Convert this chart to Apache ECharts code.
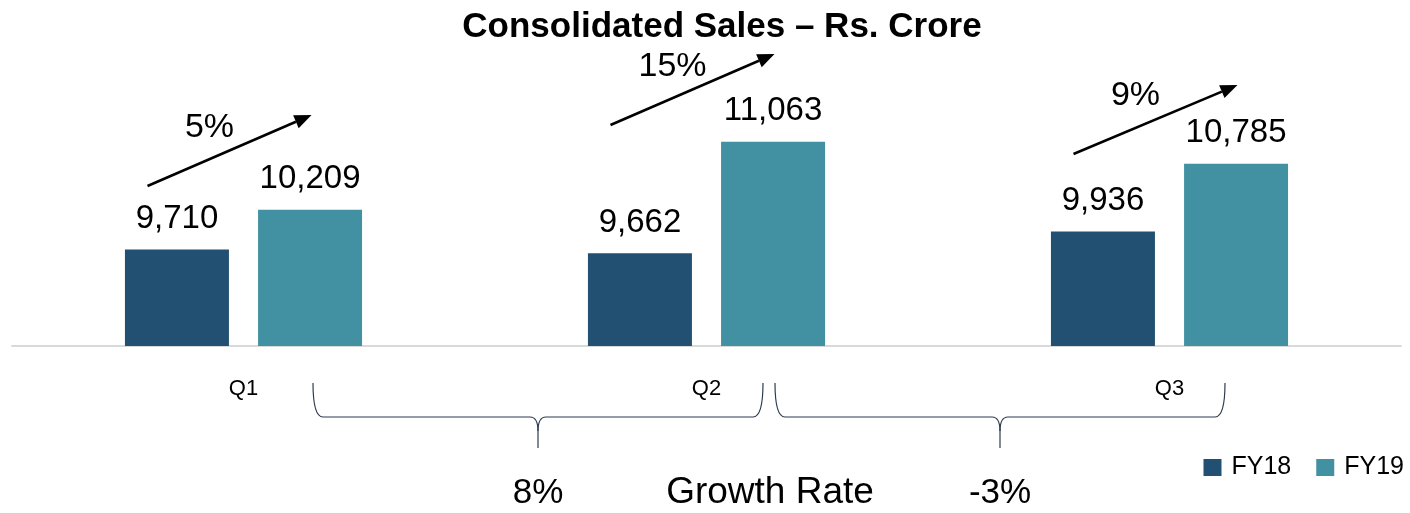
<!DOCTYPE html>
<html>
<head>
<meta charset="utf-8">
<script src="https://cdn.jsdelivr.net/npm/echarts@6/dist/echarts.min.js"></script>
<style>
    html, body { margin: 0; padding: 0; background: #fff; }
    #chart { width: 1410px; height: 513px; }
</style>
</head>
<body>
<div id="chart"></div>
<script>
    // data
    const quarters = ['Q1', 'Q2', 'Q3'];
    const fy18 = [9710, 9662, 9936];
    const fy19 = [10209, 11063, 10785];
    const qoqGrowth = ['5%', '15%', '9%'];
    const growthRates = ['8%', '-3%'];

    const FONT = '"Liberation Sans", Arial, sans-serif';
    const C18 = '#225073';
    const C19 = '#4291A2';

    let myChart = echarts.init(document.getElementById('chart'));

    let option = {
        backgroundColor: '#fff',
        animation: false,
        title: {
            text: 'Consolidated Sales – Rs. Crore',
            left: 717,
            textAlign: 'center',
            top: 5,
            textStyle: { fontFamily: FONT, fontSize: 35, fontWeight: 'bold', color: '#000' }
        },
        legend: {
            data: ['FY18', 'FY19'],
            right: 1,
            top: 450,
            icon: 'rect',
            itemWidth: 18,
            itemHeight: 17,
            itemGap: 25,
            textStyle: { fontFamily: FONT, fontSize: 25, color: '#000', padding: [0, 0, 0, 5] }
        },
        grid: { left: 12, right: 9, top: 67, bottom: 167 },
        xAxis: {
            type: 'category',
            data: quarters,
            axisLine: { lineStyle: { color: '#D9D9D9', width: 2 } },
            axisTick: { show: false },
            axisLabel: { margin: 32, fontFamily: FONT, fontSize: 22, color: '#000' }
        },
        yAxis: {
            type: 'value',
            min: 8500,
            max: 12000,
            show: false,
            splitLine: { show: false }
        },
        series: [{
            name: 'FY18',
            type: 'bar',
            data: fy18,
            barWidth: 104,
            barGap: '28%',
            itemStyle: { color: C18 },
            label: {
                show: true, position: 'top', distance: 14,
                fontFamily: FONT, fontSize: 33, color: '#000',
                formatter: p => p.value.toLocaleString('en-US')
            }
        }, {
            name: 'FY19',
            type: 'bar',
            data: fy19,
            barWidth: 104,
            itemStyle: { color: C19 },
            label: {
                show: true, position: 'top', distance: 14,
                fontFamily: FONT, fontSize: 33, color: '#000',
                formatter: p => p.value.toLocaleString('en-US')
            }
        }]
    };
    myChart.setOption(option);

    // annotations: growth arrows above each quarter, braces + growth rates below
    let g = [];
    let arrowY = [[186, 115], [125, 54], [154, 85]];
    quarters.forEach((q, i) => {
        let cx = myChart.convertToPixel({ xAxisIndex: 0 }, q);
        let x1 = cx - 96, y1 = arrowY[i][0];
        let x2 = cx + 68, y2 = arrowY[i][1];
        let ang = Math.atan2(y2 - y1, x2 - x1);
        let hl = 17, hw = 7;
        let bx = x2 - hl * Math.cos(ang), by = y2 - hl * Math.sin(ang);
        g.push({
            type: 'line',
            shape: { x1: x1, y1: y1, x2: bx, y2: by },
            style: { stroke: '#000', lineWidth: 2.5 }
        });
        g.push({
            type: 'polygon',
            shape: { points: [[x2, y2],
                [bx + hw * Math.sin(ang), by - hw * Math.cos(ang)],
                [bx - hw * Math.sin(ang), by + hw * Math.cos(ang)]] },
            style: { fill: '#000' }
        });
        g.push({
            type: 'text',
            x: cx - 34, y: y1 - 58,
            style: { text: qoqGrowth[i], fontFamily: FONT, fontSize: 34, fill: '#000', align: 'center', verticalAlign: 'middle' }
        });
    });

    let braceStyle = { stroke: '#2E3B4E', lineWidth: 1.2, fill: null };
    let braces = [[313, 763], [775, 1225]];
    braces.forEach((b, i) => {
        let x1 = b[0], x2 = b[1], c = (x1 + x2) / 2;
        let top = 383, mid = 417, tip = 448;
        g.push({ type: 'bezierCurve', shape: { x1: x1, y1: top, cpx1: x1, cpy1: mid, x2: x1 + 10, y2: mid }, style: braceStyle });
        g.push({ type: 'line', shape: { x1: x1 + 10, y1: mid, x2: c - 8, y2: mid }, style: braceStyle });
        g.push({ type: 'bezierCurve', shape: { x1: c - 8, y1: mid, cpx1: c, cpy1: mid, x2: c, y2: mid + 14 }, style: braceStyle });
        g.push({ type: 'bezierCurve', shape: { x1: c + 8, y1: mid, cpx1: c, cpy1: mid, x2: c, y2: mid + 14 }, style: braceStyle });
        g.push({ type: 'line', shape: { x1: c, y1: mid + 14, x2: c, y2: tip }, style: braceStyle });
        g.push({ type: 'line', shape: { x1: c + 8, y1: mid, x2: x2 - 10, y2: mid }, style: braceStyle });
        g.push({ type: 'bezierCurve', shape: { x1: x2 - 10, y1: mid, cpx1: x2, cpy1: mid, x2: x2, y2: top }, style: braceStyle });
        g.push({
            type: 'text',
            x: c, y: 493,
            style: { text: growthRates[i], fontFamily: FONT, fontSize: 35, fill: '#000', align: 'center', verticalAlign: 'middle' }
        });
    });
    g.push({
        type: 'text',
        x: 770, y: 493,
        style: { text: 'Growth Rate', fontFamily: FONT, fontSize: 37, fill: '#000', align: 'center', verticalAlign: 'middle' }
    });

    myChart.setOption({ graphic: g });
</script>
</body>
</html>
